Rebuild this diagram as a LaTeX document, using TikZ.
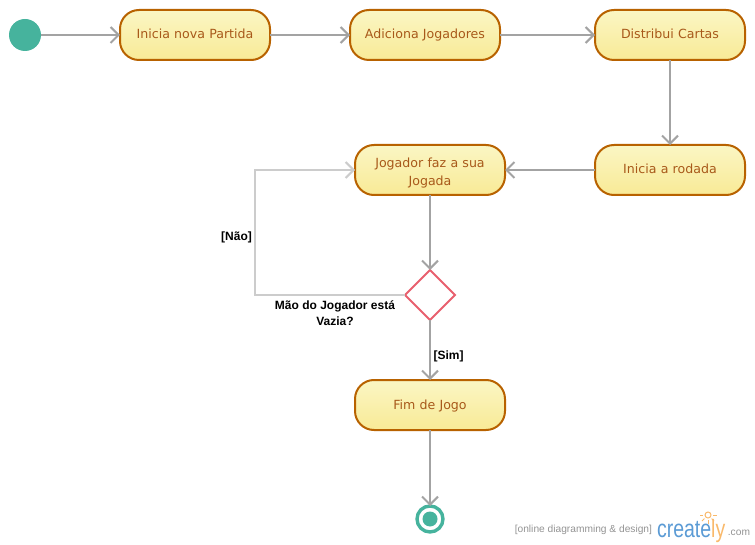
\documentclass[tikz,border=0pt]{standalone}
\usepackage{fontspec}
\setmainfont{Liberation Sans}
\newfontfamily\boxfont{DejaVu Sans}
\usetikzlibrary{arrows.meta,shapes.geometric}
\definecolor{boxline}{HTML}{B86200}
\definecolor{boxtop}{HTML}{FAF6C4}
\definecolor{boxbot}{HTML}{F9EA96}
\definecolor{boxtext}{HTML}{A8591A}
\definecolor{teal}{HTML}{46B39D}
\definecolor{conn}{HTML}{A3A3A3}
\definecolor{connlight}{HTML}{CCCCCC}
\definecolor{dia}{HTML}{E8606E}
\definecolor{crblue}{HTML}{5B9BD5}
\definecolor{crorange}{HTML}{F9B96B}
\newcommand{\lh}{\vphantom{Jg}}
\tikzset{
  every node/.style={inner sep=0pt,outer sep=0pt},
  action/.style={draw=boxline,line width=2pt,rounded corners=19pt,top color=boxtop,bottom color=boxbot,
    minimum width=150pt,minimum height=50pt,text width=138pt,align=center,text=boxtext,
    font=\boxfont\fontsize{12.6}{18}\selectfont},
  flow/.style={draw=conn,line width=2pt,-{Straight Barb[length=8pt,width=16pt,line width=2pt]}},
  flowlight/.style={flow,draw=connlight},
  guard/.style={font=\bfseries\fontsize{12}{16}\selectfont,align=center,text=black},
  wmark/.style={font=\fontsize{10.2}{12}\selectfont,text=gray!85}
}
\begin{document}
\begin{tikzpicture}[x=1pt,y=-1pt]
\useasboundingbox (0,0) rectangle (755,545);
\node[circle,fill=teal,minimum size=32pt] (start) at (25,35) {};
\node[action] (a1) at (195,35) {\lh Inicia nova Partida};
\node[action] (a2) at (425,35) {\lh Adiciona Jogadores};
\node[action] (a3) at (670,35) {\lh Distribui Cartas};
\node[action] (a4) at (670,170) {\lh Inicia a rodada};
\node[action] (a5) at (430,170) {\rule{0pt}{16pt}Jogador faz a sua\\Jogada};
\node[diamond,draw=dia,line width=2pt,fill=white,minimum width=50pt,minimum height=50pt] (d) at (430,295) {};
\node[action] (a6) at (430,405) {\rule{0pt}{12pt}\lh Fim de Jogo};
\node[circle,draw=teal,line width=3.4pt,fill=white,minimum size=26pt] (end) at (430,519) {};
\node[circle,fill=teal,minimum size=15pt] (endin) at (430,519) {};
\coordinate (cn) at (255,295);
\coordinate (cn2) at (255,170);
\draw[flow] (start) -- (a1);
\draw[flow] (a1) -- (a2);
\draw[flow] (a2) -- (a3);
\draw[flow] (a3) -- (a4);
\draw[flow] (a4) -- (a5);
\draw[flow] (a5) -- (d);
\draw[flow] (d) -- (a6);
\draw[flow] (a6) -- (end);
\draw[flowlight] (d) -- (cn) -- (cn2) -- (a5);
\node[guard] (l1) at (236.5,237) {[Não]};
\node[guard] (l2) at (335,313) {Mão do Jogador está\\Vazia?};
\node[guard] (l3) at (448.5,356) {[Sim]};
\node[wmark,anchor=east] (w1) at (652,530) {[online diagramming \& design]};
\node[font=\fontsize{25}{26}\selectfont,text=crblue,anchor=base west,xscale=.78] (w2) at (657,537) {create\textcolor{crorange}{ly}};
\node[wmark,font=\fontsize{10.2}{12}\selectfont,anchor=base east] (w3) at (750,535) {.com};
\draw[crorange,line width=1pt] (708,515) circle (3pt);
\foreach \a in {0,45,...,180}{\draw[crorange,line width=.8pt] (708,515) ++({-\a}:5pt) -- ++({-\a}:3.5pt);}
\end{tikzpicture}
\end{document}
